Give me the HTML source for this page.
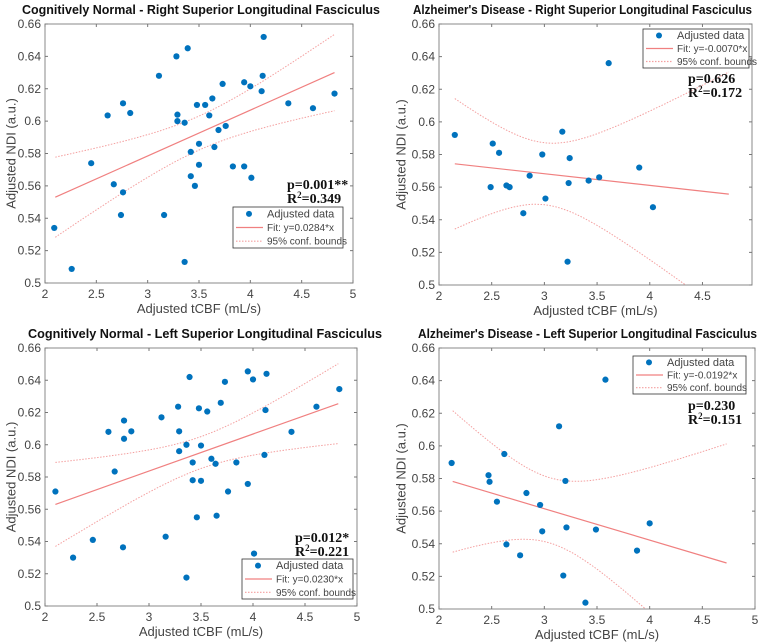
<!DOCTYPE html>
<html><head><meta charset="utf-8">
<style>
html,body{margin:0;background:#fff;overflow:hidden;width:767px;height:642px;}
svg{display:block;font-family:"Liberation Sans",sans-serif;}
</style></head>
<body>
<svg id="chart" width="767" height="642" viewBox="0 0 767 642" overflow="hidden"></svg>
<script>
const p1X=[2.09,2.26,2.45,2.61,2.67,2.76,2.76,2.74,2.83,3.11,3.16,3.28,3.29,3.29,3.36,3.39,3.36,3.42,3.42,3.46,3.48,3.50,3.50,3.56,3.60,3.63,3.65,3.69,3.73,3.76,3.83,3.94,3.94,4.00,4.01,4.11,4.12,4.13,4.37,4.61,4.82];
const p1Y=[0.534,0.5087,0.574,0.6035,0.561,0.611,0.556,0.542,0.605,0.628,0.542,0.640,0.604,0.600,0.599,0.645,0.513,0.581,0.566,0.560,0.610,0.586,0.573,0.610,0.6035,0.614,0.584,0.5945,0.623,0.597,0.572,0.624,0.572,0.6215,0.565,0.6185,0.628,0.652,0.611,0.608,0.617];
const p2X=[2.15,2.51,2.57,2.49,2.64,2.67,2.80,2.86,2.98,3.01,3.17,3.24,3.23,3.22,3.42,3.52,3.61,3.90,4.03];
const p2Y=[0.592,0.5867,0.581,0.560,0.561,0.560,0.544,0.567,0.580,0.553,0.594,0.5778,0.5625,0.5143,0.564,0.566,0.636,0.572,0.5477];
const p3X=[2.10,2.27,2.46,2.61,2.67,2.76,2.76,2.75,2.83,3.12,3.16,3.28,3.29,3.29,3.36,3.39,3.36,3.42,3.42,3.46,3.48,3.50,3.50,3.56,3.60,3.64,3.65,3.69,3.73,3.76,3.84,3.95,3.95,4.00,4.01,4.11,4.12,4.13,4.37,4.61,4.83];
const p3Y=[0.571,0.530,0.541,0.608,0.5834,0.615,0.6037,0.5364,0.6083,0.617,0.543,0.6236,0.6083,0.596,0.600,0.642,0.5176,0.589,0.578,0.555,0.6226,0.5995,0.5776,0.6206,0.5913,0.5882,0.556,0.626,0.639,0.571,0.589,0.6455,0.5757,0.6405,0.5325,0.5937,0.6215,0.644,0.608,0.6236,0.6345];
const p4X=[2.12,2.47,2.48,2.55,2.62,2.64,2.77,2.83,2.96,2.98,3.14,3.20,3.21,3.18,3.39,3.49,3.58,3.88,4.00];
const p4Y=[0.5895,0.582,0.578,0.5658,0.595,0.5396,0.5329,0.5711,0.5638,0.5476,0.612,0.5785,0.5500,0.5205,0.5039,0.5487,0.6406,0.5358,0.5525];
// fit endpoints [x0,y0,x1,y1]
const fit1=[2.1,0.553,4.82,0.630];
const fit2=[2.15,0.5743,4.75,0.5557];
const fit3=[2.1,0.563,4.82,0.6255];
const fit4=[2.13,0.5782,4.73,0.5282];
// confidence band params [centerX, minHalf, spread]
const ci1=[3.5,0.0105,0.016];
const ci2=[3.0,0.019,0.0414];
const ci3=[3.5,0.0099,0.0172];
const ci4=[3.05,0.02,0.0418];
const yTicks=[0.5,0.52,0.54,0.56,0.58,0.6,0.62,0.64,0.66];
const xTicksFull=[2,2.5,3,3.5,4,4.5,5];
const xTicksAD=[2,2.5,3,3.5,4,4.5];

const svg=document.getElementById('chart');
const NS='http://www.w3.org/2000/svg';
function mk(tag,attrs,parent){const e=document.createElementNS(NS,tag);for(const k in attrs)e.setAttribute(k,attrs[k]);(parent||svg).appendChild(e);return e;}

const panels=[
 {key:'cn-right',title:'Cognitively Normal - Right Superior Longitudinal Fasciculus',X:p1X,Y:p1Y,fit:fit1,ci:ci1,xt:xTicksFull,xmax:5,L:45,R:353,T:24,B:283,ylx:12,leg:[233,207,110,41],fitLbl:'Fit: y=0.0284*x',p:'p=0.001**',r:'0.349',sx:287,sy:189,tx:22,tw:358},
 {key:'ad-right',title:"Alzheimer's Disease - Right Superior Longitudinal Fasciculus",X:p2X,Y:p2Y,fit:fit2,ci:ci2,xt:xTicksAD,xmax:4.97,L:439,R:752,T:24,B:285,ylx:402,leg:[643,29,106,39],fitLbl:'Fit: y=-0.0070*x',p:'p=0.626',r:'0.172',sx:688,sy:83,tx:413,tw:339},
 {key:'cn-left',title:'Cognitively Normal - Left Superior Longitudinal Fasciculus',X:p3X,Y:p3Y,fit:fit3,ci:ci3,xt:xTicksFull,xmax:5,L:45,R:357,T:348,B:606,ylx:12,leg:[242,559,111,40],fitLbl:'Fit: y=0.0230*x',p:'p=0.012*',r:'0.221',sx:295,sy:542,tx:28,tw:354},
 {key:'ad-left',title:"Alzheimer's Disease - Left Superior Longitudinal Fasciculus",X:p4X,Y:p4Y,fit:fit4,ci:ci4,xt:xTicksFull,xmax:5,L:439,R:755,T:348,B:609,ylx:402,leg:[633,356,113,38],fitLbl:'Fit: y=-0.0192*x',p:'p=0.230',r:'0.151',sx:688,sy:410,tx:418,tw:339}
];

panels.forEach(P=>{
 const g=mk('g',{});
 
 
 const xs=v=>P.L+(v-2)/(P.xmax-2)*(P.R-P.L);
 const ys=v=>P.B-(v-0.5)/0.16*(P.B-P.T);
 const cp=mk('clipPath',{id:'clip-'+P.key},g);
 mk('rect',{x:P.L,y:P.T,width:P.R-P.L,height:P.B-P.T},cp);
 const frame=mk('rect',{x:P.L,y:P.T,width:P.R-P.L,height:P.B-P.T,fill:'#fff',stroke:'#262626','stroke-opacity':0.55,'stroke-width':1},g);
 
 
 yTicks.forEach(t=>{
  mk('line',{x1:P.L,x2:P.L+3,y1:ys(t),y2:ys(t),stroke:'#777'},g);
  mk('line',{x1:P.R,x2:P.R-3,y1:ys(t),y2:ys(t),stroke:'#777'},g);
  const tx=mk('text',{x:P.L-4,y:ys(t)+4,'text-anchor':'end','font-size':12,fill:'#444'},g);
  tx.textContent=String(t);
  
  
 });
 P.xt.forEach(t=>{
  mk('line',{x1:xs(t),x2:xs(t),y1:P.B,y2:P.B-3,stroke:'#777'},g);
  mk('line',{x1:xs(t),x2:xs(t),y1:P.T,y2:P.T+3,stroke:'#777'},g);
  const tx=mk('text',{x:xs(t),y:P.B+15,'text-anchor':'middle','font-size':12,fill:'#444'},g);
  tx.textContent=String(t);
  
  
 });
 const pg=mk('g',{'clip-path':'url(#clip-'+P.key+')'},g);
 const f=P.fit, slope=(f[3]-f[1])/(f[2]-f[0]);
 const fy=x=>f[1]+slope*(x-f[0]);
 const half=x=>Math.sqrt(P.ci[1]*P.ci[1]+P.ci[2]*P.ci[2]*(x-P.ci[0])*(x-P.ci[0]));
 [1,-1].forEach(s=>{
  let d='';
  for(let i=0;i<=60;i++){const x=f[0]+(f[2]-f[0])*i/60;d+=(i?'L':'M')+xs(x).toFixed(1)+','+ys(fy(x)+s*half(x)).toFixed(1);}
  const pa=mk('path',{d:d,fill:'none',stroke:'#f4a0a0','stroke-width':1,'stroke-dasharray':'1.5,1.5'},pg);
  
  
 });
 const fl=mk('line',{x1:xs(f[0]),y1:ys(f[1]),x2:xs(f[2]),y2:ys(f[3]),stroke:'#f08080','stroke-width':1.2},pg);
 
 
 P.X.forEach((x,i)=>{
  const c=mk('circle',{cx:xs(x),cy:ys(P.Y[i]),r:3.1,fill:'#0072BD'},pg);
  
  
 });
 const ti=mk('text',{x:P.tx,y:P.T-10,'font-size':12.5,'font-weight':'bold',fill:'#111',textLength:P.tw,lengthAdjust:'spacingAndGlyphs'},g);
 ti.textContent=P.title;
 
 
 const xl=mk('text',{x:(P.L+P.R)/2,y:P.B+30,'text-anchor':'middle','font-size':13,fill:'#444'},g);
 xl.textContent='Adjusted tCBF (mL/s)';
 
 
 const yc=(P.T+P.B)/2;
 const yl=mk('text',{x:P.ylx,y:yc,'text-anchor':'middle','font-size':13,fill:'#444',transform:'rotate(-90 '+P.ylx+' '+yc+')','dominant-baseline':'middle'},g);
 yl.textContent='Adjusted NDI (a.u.)';
 
 
 const st=mk('text',{x:P.sx,y:P.sy,'font-family':'"Liberation Serif",serif','font-size':14,'font-weight':'bold',fill:'#111'},g);
 st.textContent=P.p;
 
 
 const r2=mk('text',{x:P.sx,y:P.sy+14,'font-family':'"Liberation Serif",serif','font-size':14,'font-weight':'bold',fill:'#111'},g);
 r2.innerHTML='R<tspan font-size="9" dy="-5">2</tspan><tspan dy="5">='+P.r+'</tspan>';
 
 
 const [lx,ly,lw,lh]=P.leg;
 const lg=mk('g',{},g);
 
 
 mk('rect',{x:lx,y:ly,width:lw,height:lh,fill:'#fff',stroke:'#333','stroke-width':0.8},lg);
 const rowH=lh/3;
 const labels=['Adjusted data',P.fitLbl,'95% conf. bounds'];
 labels.forEach((t,i)=>{
  const cy=ly+rowH*(i+0.5);
  if(i===0) mk('circle',{cx:lx+16,cy:cy,r:3,fill:'#0072BD'},lg);
  else mk('line',{x1:lx+3,x2:lx+30,y1:cy,y2:cy,stroke:i===1?'#f08080':'#f4a0a0','stroke-width':1.2,'stroke-dasharray':i===2?'1.5,1.5':'none'},lg);
  const tx=mk('text',{x:lx+34,y:cy+3.5,'font-size':i===0?11:10,fill:'#444'},lg);
  tx.textContent=t;
  
  
 });
});
</script>
</body></html>
